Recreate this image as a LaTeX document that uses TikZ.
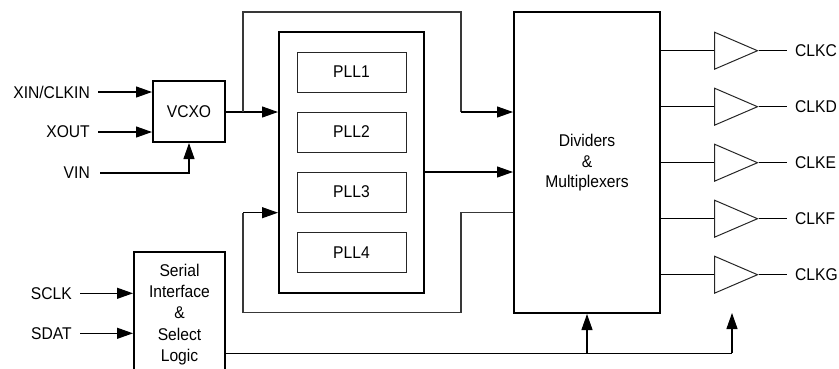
\documentclass[tikz,border=0pt]{standalone}
\usepackage{fontspec}
\setmainfont{Liberation Sans}[FakeStretch=0.92]
\usetikzlibrary{arrows.meta,shapes.geometric}

\tikzset{
  thickbox/.style={draw=black, line width=2pt, inner sep=0pt, rectangle},
  pllbox/.style={draw=black!85, line width=1pt, inner sep=0pt, rectangle,
                 minimum width=109pt, minimum height=40pt},
  buf/.style={draw=black!85, line width=1pt, isosceles triangle,
              isosceles triangle stretches, inner sep=0pt,
              minimum width=37pt, minimum height=43pt, anchor=west},
  sig/.style={draw=black, line width=1.1pt},
  thin/.style={draw=black!78, line width=1.1pt},
  arr/.style={-{Triangle[length=16pt,width=11pt]}},
  lbl/.style={inner sep=0pt, font=\fontsize{17}{20.5}\selectfont},
}

\begin{document}
\begin{tikzpicture}[x=1pt, y=-1pt, font=\fontsize{17}{20.5}\selectfont]
\useasboundingbox (0,0) rectangle (839,368);

% main blocks
\node[thickbox, minimum width=72pt, minimum height=61pt] (vcxo) at (189,111.5) {VCXO};
\node[thickbox, minimum width=145pt, minimum height=261pt] (pll) at (351.5,162.5) {};
\node[pllbox] (pll1) at (351.5,72) {PLL1};
\node[pllbox] (pll2) at (351.5,132) {PLL2};
\node[pllbox] (pll3) at (351.5,192) {PLL3};
\node[pllbox] (pll4) at (351.5,252.5) {PLL4};
\node[thickbox, minimum width=146pt, minimum height=301pt] (div) at (587,162.5) {};
\node[align=center, inner sep=0pt] (divtxt) at (587,163) {Dividers\\\&\\Multiplexers};
\node[thickbox, minimum width=91pt, minimum height=118pt] (ser) at (179.5,311) {};
\node[align=center, inner sep=0pt, font=\fontsize{17}{21.2}\selectfont] (sertxt) at (179.5,314.5)
  {Serial\\Interface\\\&\\Select\\Logic};

% input labels
\node[lbl, anchor=east] (xin)  at (90,92)  {XIN/CLKIN};
\node[lbl, anchor=east] (xout) at (90,132) {XOUT};
\node[lbl, anchor=east] (vin)  at (90,173) {VIN};
\node[lbl, anchor=east] (sclk) at (72,293.3) {SCLK};
\node[lbl, anchor=east] (sdat) at (72,333.3) {SDAT};

% junction and corner points
\coordinate (vin0) at (100,173);
\coordinate (br) at (243,112);
\coordinate (sysin) at (732,313);

% crystal oscillator inputs
\draw[sig, arr] (98,92) -- (vcxo.west |- 0,92);
\draw[sig, arr] (98,132) -- (vcxo.west |- 0,132);
\draw[sig, arr] (vin0) -| (vcxo.south);

% VCXO to PLL block, with bypass to the dividers
\draw[sig, arr] (vcxo.east |- br) -- (pll.west |- br);
\draw[thin] (br) -- (243,12) -- (461,12) -- (461,112);
\draw[sig, arr] (461,112) -- (div.west |- 0,112);

% PLL outputs to the dividers
\draw[sig, arr] (pll.east |- 0,172) -- (div.west |- 0,172);

% feedback from the dividers back to the PLLs
\draw[thin] (div.west |- 0,212.7) -- (461,212.7) -- (461,312.7) -- (243,312.7) -- (243,212.7);
\draw[sig, arr] (243,212.7) -- (pll.west |- 0,212.7);

% serial interface
\draw[sig, arr] (80,293.3) -- (ser.west |- 0,293.3);
\draw[sig, arr] (80,333.3) -- (ser.west |- 0,333.3);
\draw[sig] (ser.east |- 0,353.3) -- (732,353.3);
\draw[sig, arr] (732,353.3) -- (sysin);
\draw[sig, arr] (div.south |- 0,353.3) -- (div.south);

% output buffers
\foreach \n/\yy in {C/50.7, D/106.7, E/162.7, F/218.7, G/274.7}{
  \node[buf] (b\n) at (714,\yy) {};
  \draw[sig] (div.east |- b\n.west) -- (b\n.west);
  \coordinate (o\n) at (786.7,\yy);
  \draw[sig] (b\n.apex) -- (o\n);
  \node[lbl, anchor=west] (l\n) at (795,\yy) {CLK\n};
}
\end{tikzpicture}
\end{document}
